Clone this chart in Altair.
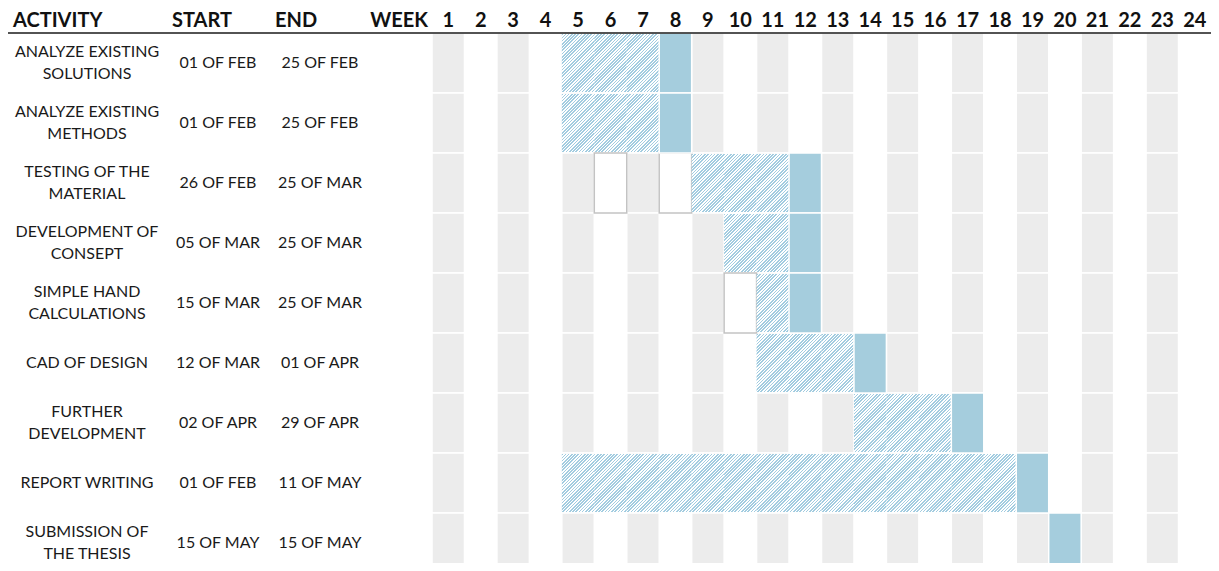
import altair as alt
import pandas as pd

# ---------------- data ----------------
activities = [
    "ANALYZE EXISTING\nSOLUTIONS",
    "ANALYZE EXISTING\nMETHODS",
    "TESTING OF THE\nMATERIAL",
    "DEVELOPMENT OF\nCONSEPT",
    "SIMPLE HAND\nCALCULATIONS",
    "CAD OF DESIGN",
    "FURTHER\nDEVELOPMENT",
    "REPORT WRITING",
    "SUBMISSION OF\nTHE THESIS",
]
start_dates = ["01 OF FEB", "01 OF FEB", "26 OF FEB", "05 OF MAR", "15 OF MAR",
               "12 OF MAR", "02 OF APR", "01 OF FEB", "15 OF MAY"]
end_dates = ["25 OF FEB", "25 OF FEB", "25 OF MAR", "25 OF MAR", "25 OF MAR",
             "01 OF APR", "29 OF APR", "11 OF MAY", "15 OF MAY"]
hatch_first_week = [5, 5, 9, 10, 11, 11, 14, 5, None]
hatch_last_week = [7, 7, 11, 11, 11, 13, 16, 18, None]
milestone_week = [8, 8, 12, 12, 12, 14, 17, 19, 20]
# empty outlined cells: (row index, week)
outlined_cells = [(2, 6), (2, 8), (4, 10)]
weeks = list(range(1, 25))
headers = ["ACTIVITY", "START", "END", "WEEK"]

# ---------------- layout ----------------
W, H = 1203, 555
GL = 424                      # left edge of week grid (px)
CW = (W - GL) / 24            # week column width (px)
HEAD_Y = 25                   # header rule (px)
RH = 60                       # row height (px)
LINE_H = 22                   # text line height (px)


def ux(px):
    return (px - GL) / CW


def vy(py):
    return (py - HEAD_Y) / RH


xs = alt.Scale(domain=[ux(0), 24], nice=False, zero=False)
ys = alt.Scale(domain=[vy(0), vy(H)], nice=False, zero=False, reverse=True)

n_rows = len(activities)
inset = 1 / RH

# background grey columns (odd weeks)
bg = pd.DataFrame([
    {"u0": k - 1, "u1": k, "v0": r, "v1": r + 1}
    for r in range(n_rows) for k in weeks if k % 2 == 1
])
outl = pd.DataFrame([
    {"u0": k - 1, "u1": k, "v0": r, "v1": r + 1} for r, k in outlined_cells
])
hatch = pd.DataFrame([
    {"u0": k - 1, "u1": k, "v0": r + inset, "v1": r + 1 - inset}
    for r in range(n_rows) if hatch_first_week[r] is not None
    for k in range(hatch_first_week[r], hatch_last_week[r] + 1)
])
solid = pd.DataFrame([
    {"u0": milestone_week[r] - 1, "u1": milestone_week[r], "v0": r, "v1": r + 1}
    for r in range(n_rows)
])


def hatch_gradient(w, h, n=28, frac=0.5, c1="#a2cce0", c2="#ffffff"):
    r = h / w
    a = (1 + r) / (1 + r * r)
    b = a * r
    stops = []
    for i in range(n):
        o0, o1, o2 = i / n, (i + frac) / n, (i + 1) / n
        stops += [{"offset": o0, "color": c1}, {"offset": o1, "color": c1},
                  {"offset": o1, "color": c2}, {"offset": o2, "color": c2}]
    return {"gradient": "linear", "x1": 0, "y1": 0, "x2": a, "y2": b, "stops": stops}


enc = dict(
    x=alt.X("u0:Q", scale=xs, axis=None), x2="u1:Q",
    y=alt.Y("v0:Q", scale=ys, axis=None), y2="v1:Q",
)

bg_layer = alt.Chart(bg).mark_rect(fill="#ececec", stroke="white", strokeWidth=1.5,
                                   clip=True).encode(**enc)
out_layer = alt.Chart(outl).mark_rect(fill="white", stroke="#c3c3c3", strokeWidth=1.5,
                                      clip=True).encode(**enc)
hatch_layer = alt.Chart(hatch).mark_rect(
    fill=hatch_gradient(CW, RH - 2), clip=True).encode(**enc)
solid_layer = alt.Chart(solid).mark_rect(fill="#a5cddd", stroke="white", strokeWidth=1.5,
                                         clip=True).encode(**enc)

# header texts
hdr_y = vy(19)
hdr = pd.DataFrame({
    "t": headers,
    "u": [ux(5), ux(164), ux(267), ux(GL - 4)],
    "v": [hdr_y] * 4,
    "al": ["left", "left", "left", "right"],
})
hdr_left = hdr[hdr.al == "left"]
hdr_right = hdr[hdr.al == "right"]
wk = pd.DataFrame({"t": [str(k) for k in weeks], "u": [k - 0.5 for k in weeks],
                   "v": [hdr_y] * len(weeks)})

tenc = dict(x=alt.X("u:Q", scale=xs, axis=None), y=alt.Y("v:Q", scale=ys, axis=None),
            text="t:N")
hdr_font = dict(font="Lato", fontSize=20, fontWeight="bold", color="#111111",
                baseline="alphabetic")
hl = alt.Chart(hdr_left).mark_text(align="left", **hdr_font).encode(**tenc)
hr = alt.Chart(hdr_right).mark_text(align="right", **hdr_font).encode(**tenc)
wl = alt.Chart(wk).mark_text(align="center", **hdr_font).encode(**tenc)

# body texts (multi-line labels are shifted up so the block is centred)
rows = pd.DataFrame({
    "act": activities, "st": start_dates, "en": end_dates,
    "v": [r + 0.5 for r in range(n_rows)],
    "va": [r + 0.5 - (a.count("\n") * LINE_H / 2) / RH
           for r, a in enumerate(activities)],
})
body_font = dict(font="Lato", fontSize=16, color="#1a1a1a", baseline="middle",
                 align="center", lineBreak="\n", lineHeight=LINE_H)
act_l = alt.Chart(rows).mark_text(**body_font).encode(
    x=alt.datum(ux(87 - 8), scale=xs), y=alt.Y("va:Q", scale=ys, axis=None), text="act:N")
st_l = alt.Chart(rows).mark_text(**body_font).encode(
    x=alt.datum(ux(218 - 8), scale=xs), y=alt.Y("v:Q", scale=ys, axis=None), text="st:N")
en_l = alt.Chart(rows).mark_text(**body_font).encode(
    x=alt.datum(ux(320 - 8), scale=xs), y=alt.Y("v:Q", scale=ys, axis=None), text="en:N")

# header rule
rule_df = pd.DataFrame({"u0": [ux(0)], "u1": [24], "v": [0]})
rule = alt.Chart(rule_df).mark_rule(color="#1a1a1a", strokeWidth=1.5).encode(
    x=alt.X("u0:Q", scale=xs, axis=None), x2="u1:Q",
    y=alt.Y("v:Q", scale=ys, axis=None))

chart = alt.layer(
    bg_layer, out_layer, hatch_layer, solid_layer, rule, hl, hr, wl, act_l, st_l, en_l
).properties(
    width=W, height=H, padding=0, autosize=alt.AutoSizeParams(type="none"),
    background="white",
).configure_view(stroke=None)

chart.save("out.html", embed_options={"renderer": "svg", "actions": False})
